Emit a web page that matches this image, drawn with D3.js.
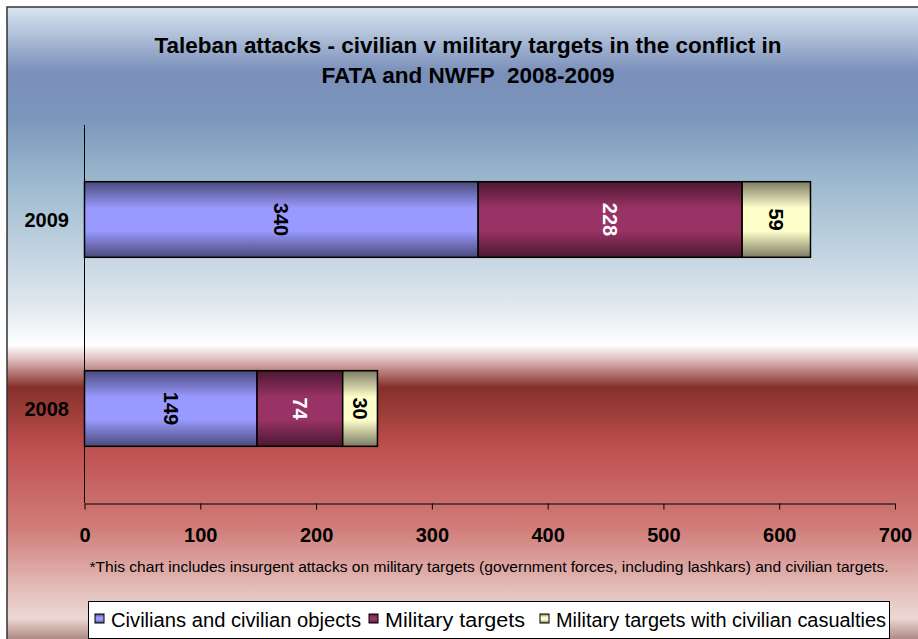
<!DOCTYPE html>
<html lang="en">
<head>
    <meta charset="UTF-8">
    <title>Taleban attacks</title>
    <script src="https://d3js.org/d3.v7.min.js"></script>
    <style>
        body { margin: 0; background: #fff; }
        text { font-family: "Liberation Sans", Arial, sans-serif; }
    </style>
</head>
<body>
    <svg id="chart" width="918" height="639"></svg>

    <script>
        // data
        const years = ["2009", "2008"];
        const seriesNames = ["Civilians and civilian objects", "Military targets", "Military targets with civilian casualties"];
        const civilians = [340, 149];
        const military = [228, 74];
        const militaryCivCas = [59, 30];
        const xTicks = [0, 100, 200, 300, 400, 500, 600, 700];

        const seriesColors = [
            {mid: "#9999ff", edge: "#4a4a7c", text: "#000"},
            {mid: "#993366", edge: "#4a1830", text: "#fff"},
            {mid: "#ffffcc", edge: "#7c7c64", text: "#000"}
        ];

        const svg = d3.select("#chart");
        const defs = svg.append("defs");

        // background gradient
        const bg = defs.append("linearGradient").attr("id", "bg")
            .attr("x1", 0).attr("y1", 0).attr("x2", 0).attr("y2", 1);
        [[0, "#d8e6f0"], [0.1, "#7a8fba"], [0.17, "#7b96bb"], [0.28, "#a0bcd0"],
         [0.46, "#e0e8ef"], [0.52, "#ffffff"], [0.54, "#e2c4c4"], [0.585, "#863029"],
         [0.68, "#bf5050"], [0.8, "#d07c78"], [0.9, "#e4c0bc"], [0.94, "#ecd8d4"], [1, "#7a4840"]]
            .forEach(s => bg.append("stop").attr("offset", s[0]).attr("stop-color", s[1]));

        seriesColors.forEach((c, i) => {
            const g = defs.append("linearGradient").attr("id", "bar" + i)
                .attr("x1", 0).attr("y1", 0).attr("x2", 0).attr("y2", 1);
            g.append("stop").attr("offset", 0).attr("stop-color", c.edge);
            g.append("stop").attr("offset", 0.35).attr("stop-color", c.mid);
            g.append("stop").attr("offset", 0.65).attr("stop-color", c.mid);
            g.append("stop").attr("offset", 1).attr("stop-color", c.edge);
        });

        svg.append("rect")
            .attr("x", 7).attr("y", 7).attr("width", 930).attr("height", 650)
            .attr("fill", "url(#bg)")
            .attr("stroke", "#333").attr("stroke-width", 1.5);

        // title
        svg.append("text").attr("x", 468).attr("y", 53)
            .attr("text-anchor", "middle").attr("font-size", 22.5).attr("font-weight", "bold")
            .attr("textLength", 627).attr("lengthAdjust", "spacingAndGlyphs")
            .text("Taleban attacks - civilian v military targets in the conflict in");
        svg.append("text").attr("x", 468).attr("y", 83)
            .attr("text-anchor", "middle").attr("font-size", 22.5).attr("font-weight", "bold")
            .text("FATA and NWFP  2008-2009").style("white-space", "pre");

        const x = d3.scaleLinear().domain([0, 700]).range([84.5, 895]);
        const y = d3.scaleBand().domain(years).range([125, 503]).paddingInner(0.6).paddingOuter(0.3);

        const rows = years.map((yr, i) => ({year: yr, values: [civilians[i], military[i], militaryCivCas[i]]}));
        const stacked = d3.stack().keys([0, 1, 2]).value((d, k) => d.values[k])(rows);

        const layers = svg.append("g").selectAll("g").data(stacked).join("g");
        layers.selectAll("rect")
            .data(d => d.map(p => ({p, key: d.key})))
            .join("rect")
            .attr("x", d => x(d.p[0]))
            .attr("y", d => y(d.p.data.year))
            .attr("width", d => x(d.p[1]) - x(d.p[0]))
            .attr("height", y.bandwidth())
            .attr("fill", d => `url(#bar${d.key})`)
            .attr("stroke", "#000").attr("stroke-width", 1.5);

        layers.selectAll("text")
            .data(d => d.map(p => ({p, key: d.key})))
            .join("text")
            .attr("transform", d => `translate(${(x(d.p[0]) + x(d.p[1])) / 2},${y(d.p.data.year) + y.bandwidth() / 2}) rotate(90)`)
            .attr("text-anchor", "middle").attr("dy", "0.35em")
            .attr("font-size", 20).attr("font-weight", "bold")
            .attr("fill", d => seriesColors[d.key].text)
            .text(d => d.p[1] - d.p[0]);

        // y axis
        svg.append("line").attr("x1", 84.5).attr("x2", 84.5).attr("y1", 125).attr("y2", 503)
            .attr("stroke", "#000").attr("stroke-width", 1);
        svg.append("g").selectAll("text").data(years).join("text")
            .attr("x", 69).attr("y", d => y(d) + y.bandwidth() / 2).attr("dy", "0.35em")
            .attr("text-anchor", "end").attr("font-size", 20).attr("font-weight", "bold")
            .text(d => d);

        // x axis
        const xAxis = svg.append("g").attr("transform", "translate(0,503.5)")
            .call(d3.axisBottom(x).tickValues(xTicks).tickSize(6).tickSizeOuter(0).tickPadding(18));
        xAxis.select(".domain").attr("stroke", "#000");
        xAxis.selectAll(".tick line").attr("stroke", "#000");
        xAxis.selectAll("text").attr("font-size", 20).attr("font-weight", "bold")
            .attr("font-family", "Liberation Sans, Arial, sans-serif").attr("fill", "#000");

        svg.append("text").attr("x", 489).attr("y", 572)
            .attr("text-anchor", "middle").attr("font-size", 15.5)
            .attr("textLength", 799).attr("lengthAdjust", "spacingAndGlyphs")
            .text("*This chart includes insurgent attacks on military targets (government forces, including lashkars) and civilian targets.");

        // legend
        const legend = svg.append("g");
        legend.append("rect").attr("x", 88.5).attr("y", 601.5).attr("width", 801).attr("height", 37)
            .attr("fill", "#fff").attr("stroke", "#000").attr("stroke-width", 1);
        const legX = [95, 369, 540];
        const legW = [250, 140, 330];
        seriesNames.forEach((name, i) => {
            legend.append("rect").attr("x", legX[i]).attr("y", 614).attr("width", 9).attr("height", 9)
                .attr("fill", `url(#bar${i})`).attr("stroke", "#000").attr("stroke-width", 1);
            legend.append("text").attr("x", legX[i] + 16).attr("y", 627)
                .attr("font-size", 20).attr("textLength", legW[i]).attr("lengthAdjust", "spacingAndGlyphs")
                .text(name);
        });
    </script>
</body>
</html>
